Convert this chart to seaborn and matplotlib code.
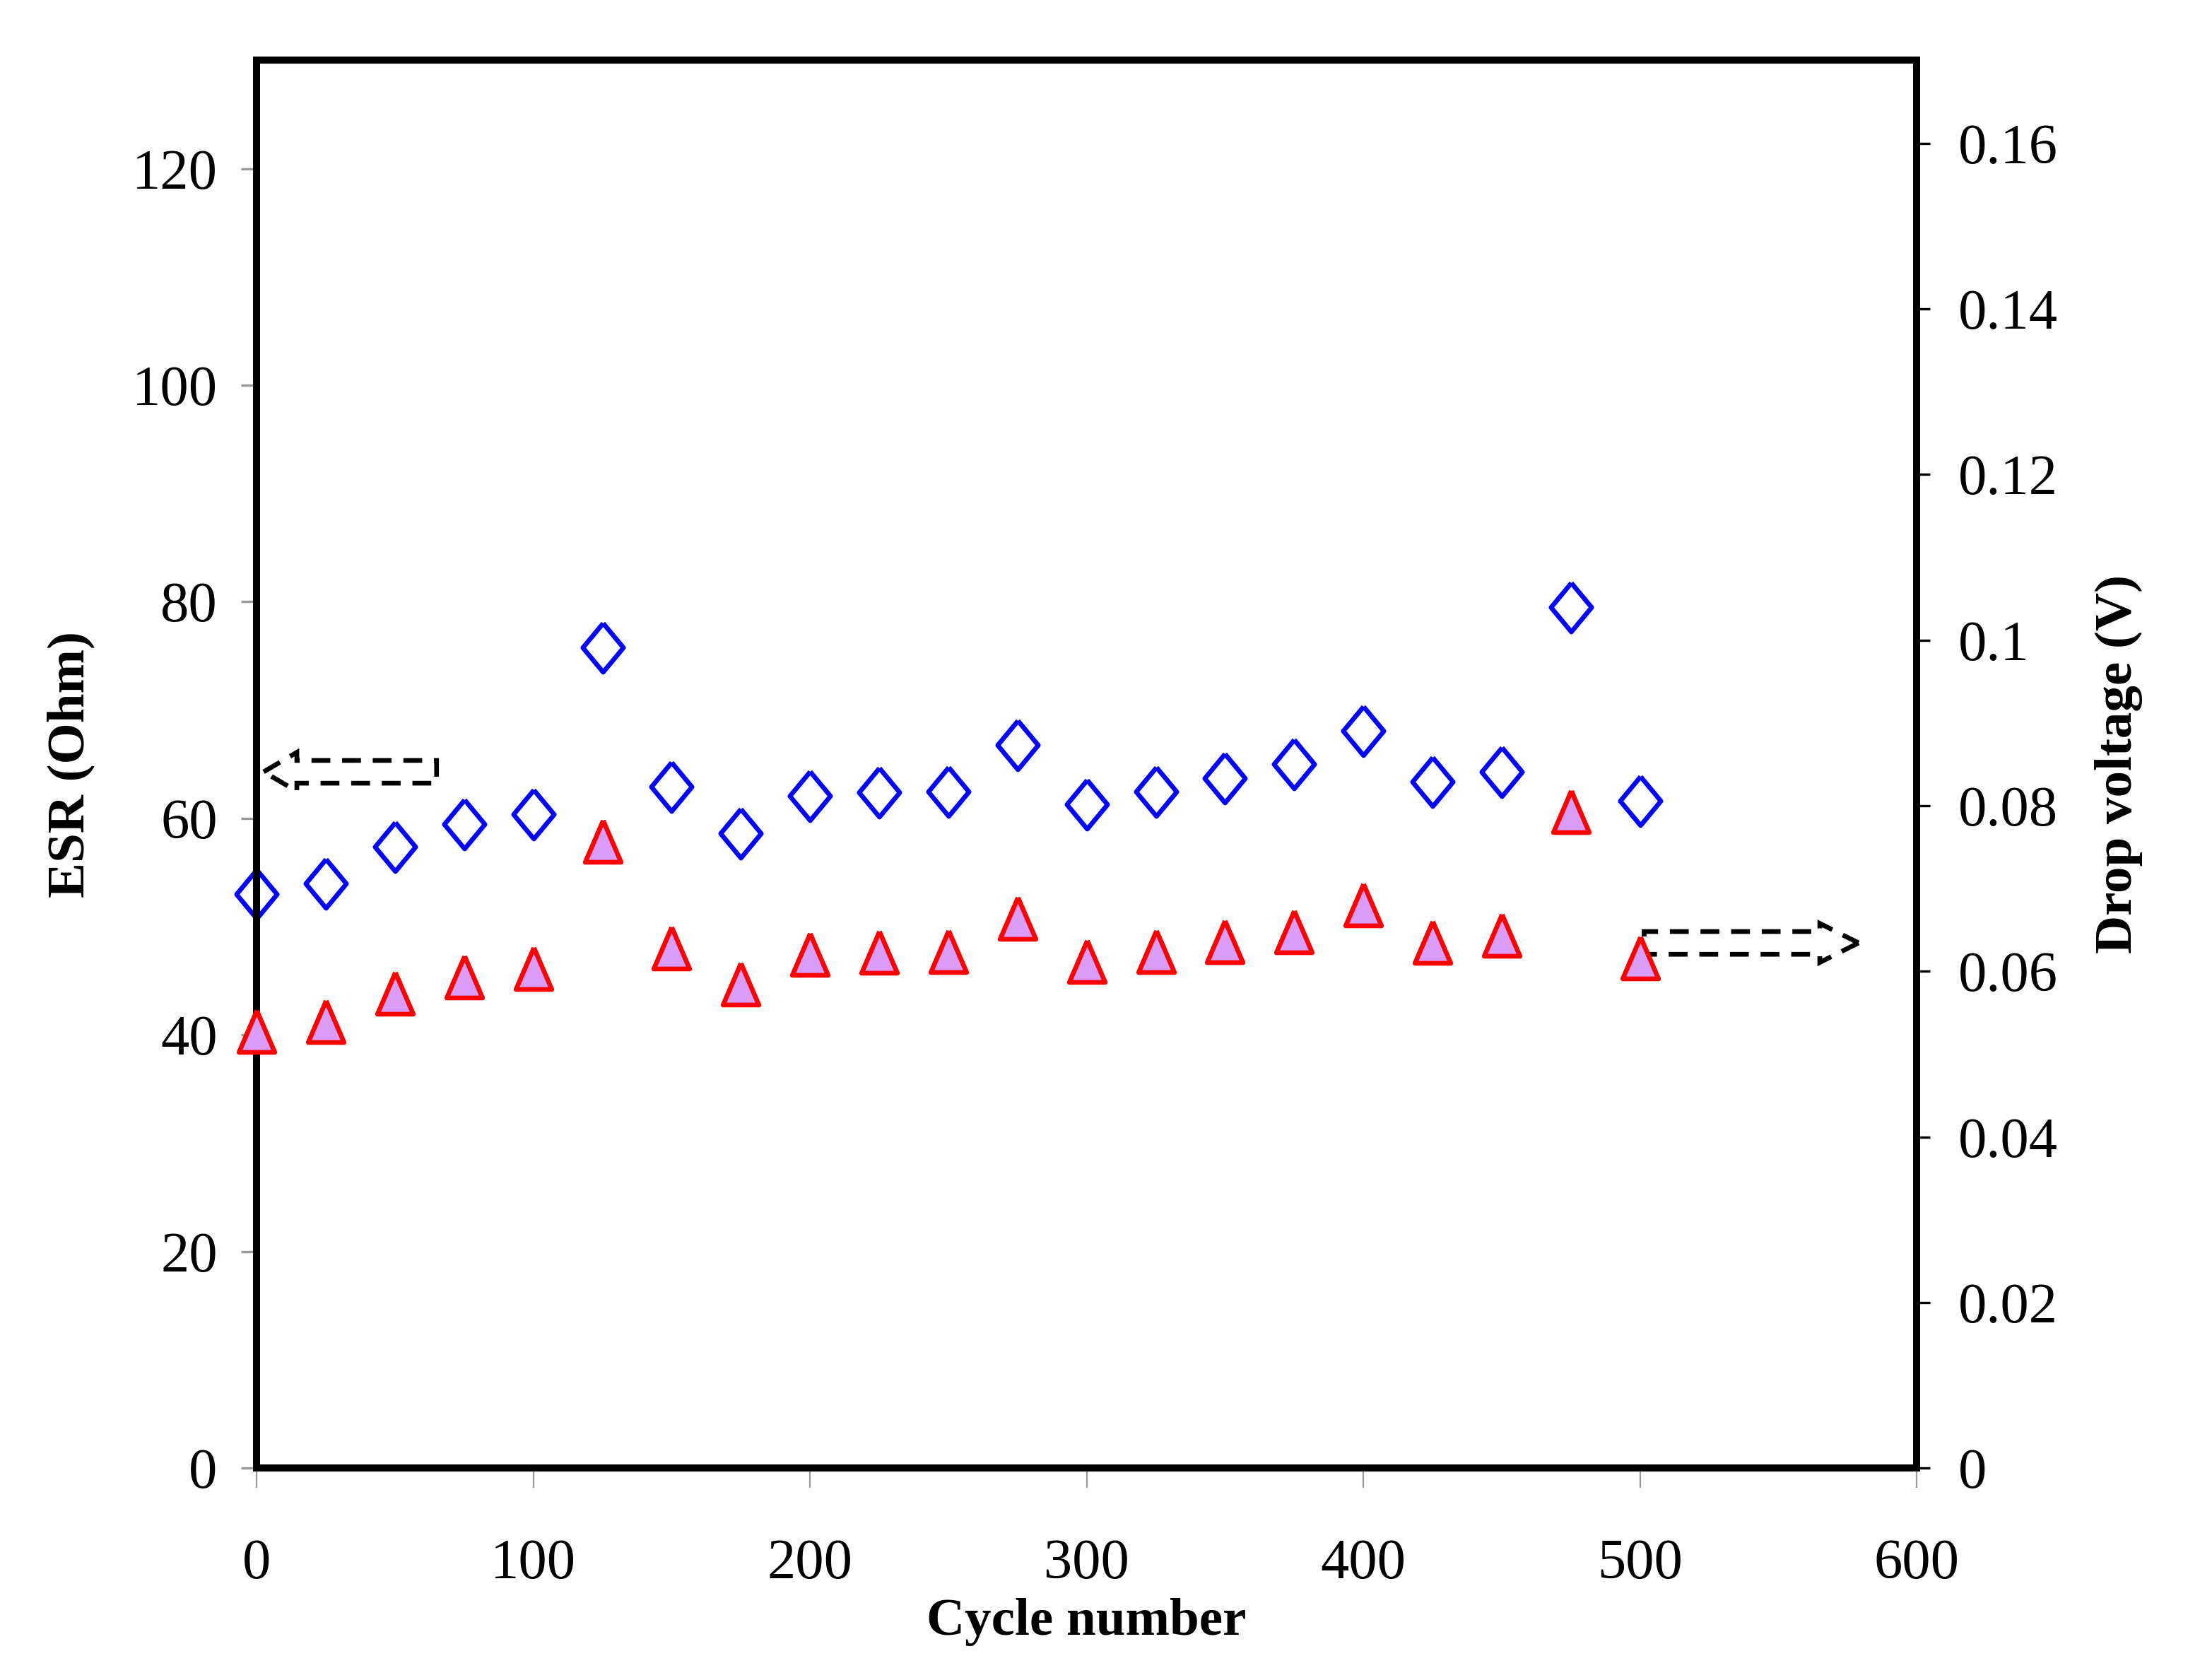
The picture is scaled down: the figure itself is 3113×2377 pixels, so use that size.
import matplotlib
matplotlib.use("Agg")
import matplotlib.pyplot as plt
import matplotlib.patches as mpatches
import seaborn as sns
import pandas as pd

# ---- data ----
cycles = [0, 25, 50, 75, 100, 125, 150, 175, 200, 225, 250,
          275, 300, 325, 350, 375, 400, 425, 450, 475, 500]
esr_ohm = [53.0, 54.0, 57.4, 59.5, 60.4, 75.8, 62.9, 58.6, 62.1, 62.4, 62.5,
           66.8, 61.3, 62.5, 63.7, 65.0, 68.1, 63.4, 64.3, 79.5, 61.6]
drop_v = [0.0528, 0.0540, 0.0574, 0.0593, 0.0604, 0.0757, 0.0628, 0.0585, 0.0621, 0.0623, 0.0624,
          0.0664, 0.0612, 0.0624, 0.0636, 0.0648, 0.0680, 0.0635, 0.0644, 0.0793, 0.0616]

x_ticks = [0, 100, 200, 300, 400, 500, 600]
esr_ticks = [0, 20, 40, 60, 80, 100, 120]
drop_ticks = [0, 0.02, 0.04, 0.06, 0.08, 0.10, 0.12, 0.14, 0.16]
drop_labels = ["0", "0.02", "0.04", "0.06", "0.08", "0.1", "0.12", "0.14", "0.16"]

df = pd.DataFrame({"cycle": cycles, "esr": esr_ohm, "drop": drop_v})

sns.set_theme(style="white")
plt.rcParams["font.family"] = ["Liberation Serif", "DejaVu Serif"]
plt.rcParams["text.color"] = "black"
plt.rcParams["axes.labelcolor"] = "black"
plt.rcParams["xtick.color"] = "black"
plt.rcParams["ytick.color"] = "black"

fig = plt.figure(figsize=(15.565, 11.885), dpi=200)
ax = fig.add_axes([0.1167, 0.1261, 0.7545, 0.838])
ax2 = ax.twinx()

diamond = [(0, 1), (0.83, 0), (0, -1), (-0.83, 0), (0, 1)]
triangle = [(0, 1), (-0.86, -1), (0.86, -1), (0, 1)]

sns.scatterplot(data=df, x="cycle", y="esr", ax=ax, marker=diamond, s=620,
                facecolor="white", edgecolor="#0000FF", linewidth=2.4, zorder=3,
                clip_on=False)
sns.scatterplot(data=df, x="cycle", y="drop", ax=ax2, marker=triangle, s=450,
                color="#DA9CF8", edgecolor="#FF0000", linewidth=2.4, zorder=3,
                clip_on=False)

ax.set_xlim(0, 600)
ax.set_ylim(0, 130)
ax2.set_ylim(0, 0.17)

ax.set_xticks(x_ticks)
ax.set_yticks(esr_ticks)
ax2.set_yticks(drop_ticks)
ax2.set_yticklabels(drop_labels)

ax.tick_params(axis="x", direction="out", length=10, width=0.8, color="#999999",
               labelcolor="black", pad=26, labelsize=29, bottom=True)
ax.tick_params(axis="y", direction="out", length=8, width=1.2, color="#999999",
               labelcolor="black", pad=12, labelsize=29, left=True)
ax2.tick_params(axis="y", direction="out", length=7, width=1.2, color="black",
                labelcolor="black", pad=14, labelsize=29, right=True)

for a in (ax, ax2):
    for sp in a.spines.values():
        sp.set_color("black")
        sp.set_linewidth(3.6)

ax.set_xlabel("Cycle number", fontsize=27, fontweight="bold", labelpad=4)
ax.set_ylabel("ESR (Ohm)", fontsize=27, fontweight="bold", labelpad=19)
ax2.set_ylabel("Drop voltage (V)", fontsize=27, fontweight="bold", labelpad=19)

# dashed block arrows pointing at the matching axis
left_arrow = mpatches.FancyArrow(65, 64.3, -62.5, 0, width=2.1, head_width=3.6,
                                 head_length=12, length_includes_head=True,
                                 fill=False, edgecolor="black", linestyle=(0, (4, 2.5)),
                                 linewidth=2.4, zorder=4)
ax.add_patch(left_arrow)
right_arrow = mpatches.FancyArrow(501.5, 48.5, 77.5, 0, width=2.1, head_width=3.6,
                                  head_length=14, length_includes_head=True,
                                  fill=False, edgecolor="black", linestyle=(0, (4, 2.5)),
                                  linewidth=2.4, zorder=4)
ax.add_patch(right_arrow)

ax.grid(False)
ax2.grid(False)

fig.savefig("out.png", dpi=200, facecolor="white")
